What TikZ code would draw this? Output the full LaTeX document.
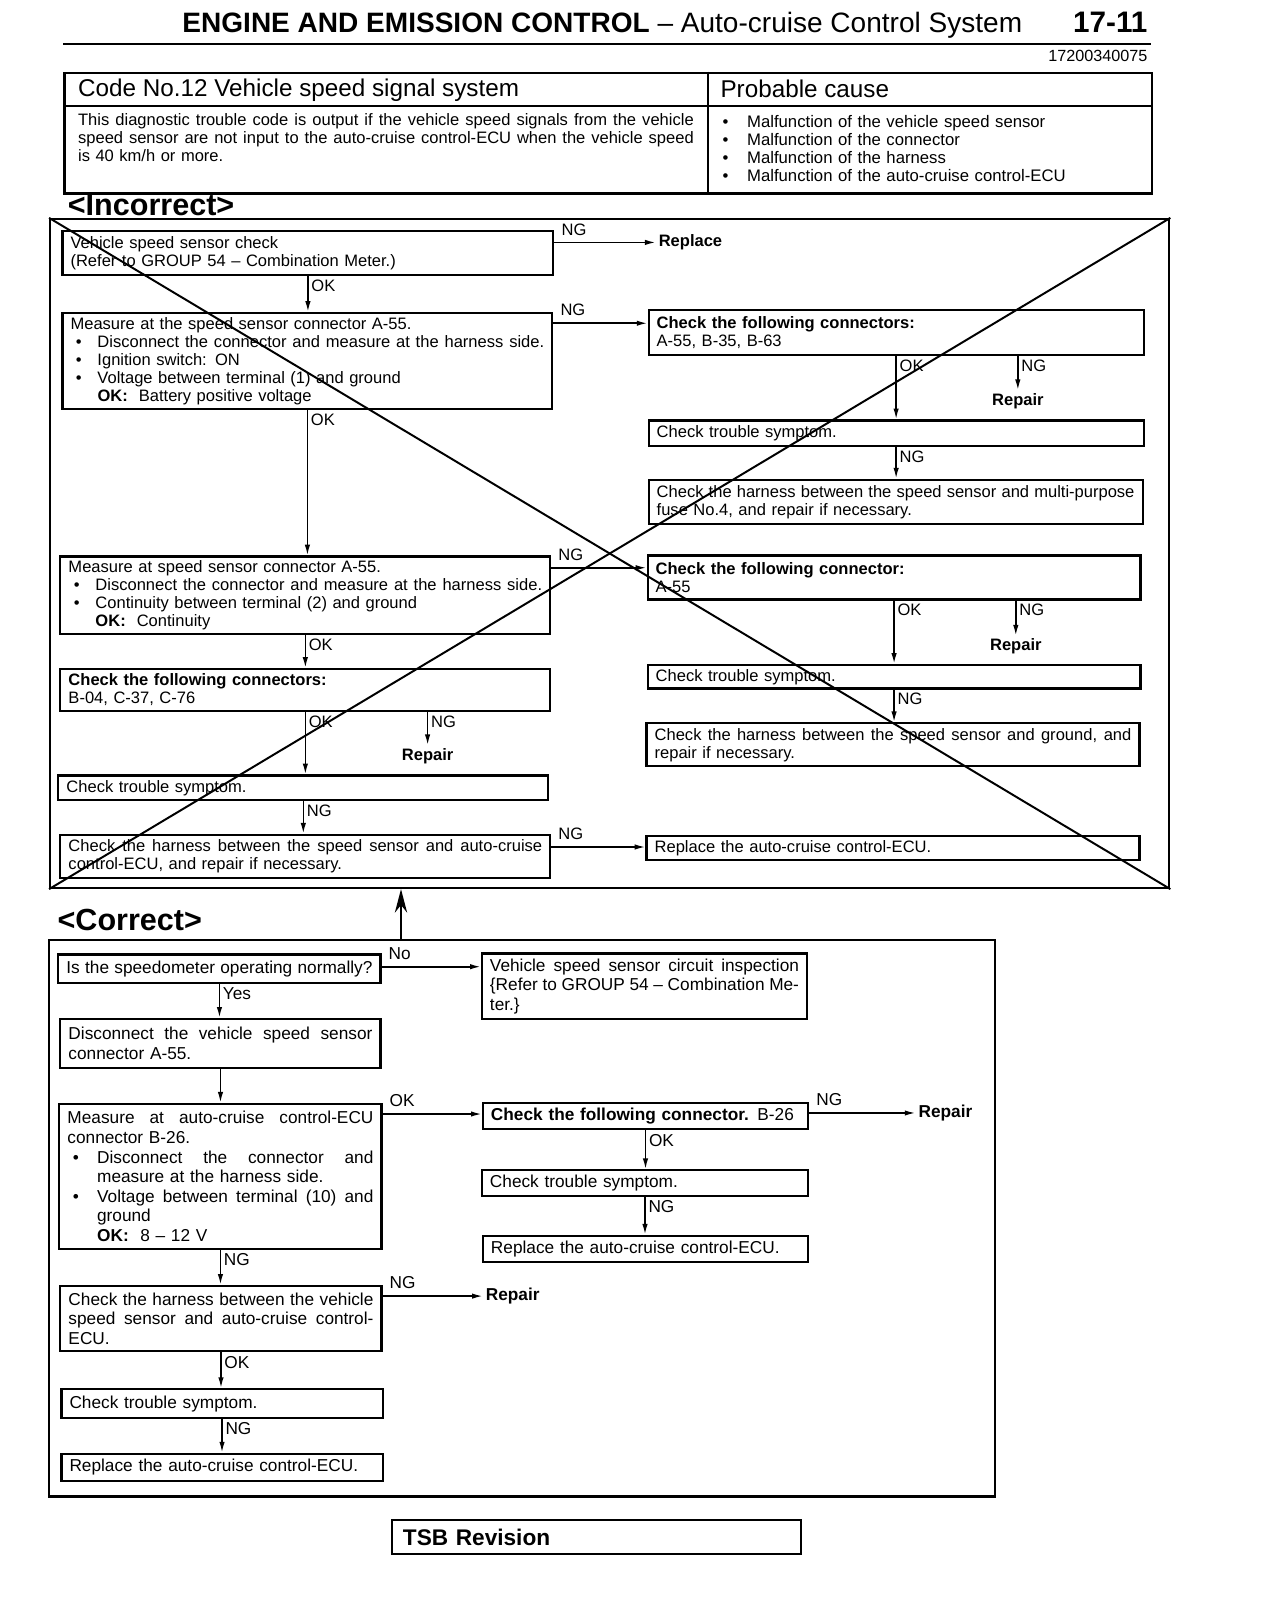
\documentclass[tikz,border=0pt]{standalone}
\usepackage{fontspec}
\setmainfont{Liberation Sans}
\usetikzlibrary{arrows.meta,calc,positioning}
\newlength{\bulind}\setlength{\bulind}{15pt}
\newcommand{\incf}{\fontsize{9.2}{10}\selectfont}
\newcommand{\corf}{\fontsize{9.6}{10.9}\selectfont\setlength{\bulind}{16.5pt}}
\newcommand{\bul}{\makebox[\bulind][l]{\hspace{3pt}\textbullet}}
\newcommand{\spread}{\spaceskip=\fontdimen2\font plus 1fil minus \fontdimen4\font\relax}
\newcommand{\fline}[1]{\leavevmode\hbox to \linewidth{\spread #1}}
\newcommand{\sline}[1]{\leavevmode\hbox to \dimexpr\linewidth-\bulind\relax{\spread #1}}

\begin{document}
\begin{tikzpicture}[x=0.02cm, y=-0.02cm,
    box/.style={draw, line width=1.2pt, anchor=north west, inner xsep=4.5pt, inner ysep=1.5pt, align=left},
    ibox/.style={box, font=\incf},
    cbox/.style={box, font=\corf},
    wd/.style={minimum width=#1, text width=#1-9pt},
    ht/.style={minimum height=#1},
    lbl/.style={inner sep=1.5pt, font=\incf},
    vlbl/.style={lbl, pos=0, anchor=north west},
    hlbl/.style={lbl, pos=0, anchor=south west, xshift=2pt, yshift=2pt},
    term/.style={inner sep=1.5pt, font=\incf\bfseries},
    frame/.style={draw, line width=1.3pt, anchor=north west, inner sep=0pt},
    flow/.style={line width=0.9pt, -{Latex[length=6pt,width=3pt]}},
    bigflow/.style={line width=1pt, -{Stealth[length=0.46cm,width=0.24cm]}},
    cross/.style={line width=1.1pt}
]
\useasboundingbox (0,0) rectangle (1236,1568);

% page header
\node[anchor=base west, inner sep=0, font=\fontsize{15.6}{17}\selectfont] (title) at (178,32)
    {\textbf{ENGINE AND EMISSION CONTROL} -- Auto-cruise Control System};
\node[anchor=base east, inner sep=0, font=\fontsize{16.5}{18}\selectfont\bfseries] (page) at (1122,32) {17-11};
\draw[line width=1.6pt] (62,43) -- (1125,43);
\node[anchor=base east, inner sep=0, font=\fontsize{9}{10}\selectfont] (docno) at (1122,60) {17200340075};

% trouble code table
\node[frame, minimum width=21.26cm, minimum height=2.36cm] (dtc) at (62,70) {};
\draw[line width=1.2pt] (692,70) -- (692,188);
\draw[line width=1.2pt] (62,104) -- (1125,104);
\node[anchor=base west, inner sep=0, font=\fontsize{13.5}{15}\selectfont] (code) at (76,94) {Code No.12 Vehicle speed signal system};
\node[anchor=base west, inner sep=0, font=\fontsize{13.5}{15}\selectfont] (cause) at (704,95) {Probable cause};
\node[anchor=base west, inner sep=0, text width=12.04cm, align=left, font=\incf] (desc) at (76,123)
    {\fline{This diagnostic trouble code is output if the vehicle speed signals from the vehicle}\\
     \fline{speed sensor are not input to the auto-cruise control-ECU when the vehicle speed}\\
     is 40 km/h or more.};
\node[anchor=base west, inner sep=0, text width=8cm, align=left, font=\fontsize{9.3}{10}\selectfont] (causes) at (706,125)
    {\makebox[0.48cm][l]{\textbullet}Malfunction of the vehicle speed sensor\\
     \makebox[0.48cm][l]{\textbullet}Malfunction of the connector\\
     \makebox[0.48cm][l]{\textbullet}Malfunction of the harness\\
     \makebox[0.48cm][l]{\textbullet}Malfunction of the auto-cruise control-ECU};

% <Incorrect>
\node[anchor=base west, inner sep=0, font=\fontsize{17}{19}\selectfont\bfseries] (inctitle) at (66,211) {<Incorrect>};
\node[frame, minimum width=21.88cm, minimum height=13.08cm] (incorrect) at (48,213) {};

\node[ibox, wd=9.6cm, ht=0.86cm] (i1) at (60,225)
    {Vehicle speed sensor check\\(Refer to GROUP 54 -- Combination Meter.)};
\node[ibox, wd=9.58cm, ht=1.88cm] (i2) at (60,305)
    {Measure at the speed sensor connector A-55.\\
     \bul\sline{Disconnect the connector and measure at the harness side.}\\
     \bul Ignition switch: ON\\
     \bul Voltage between terminal (1) and ground\\
     \hspace*{\bulind}\textbf{OK:}\ \ Battery positive voltage};
\node[ibox, wd=9.58cm, ht=1.52cm] (i3) at (58,543)
    {Measure at speed sensor connector A-55.\\
     \bul\sline{Disconnect the connector and measure at the harness side.}\\
     \bul Continuity between terminal (2) and ground\\
     \hspace*{\bulind}\textbf{OK:}\ \ Continuity};
\node[ibox, wd=9.58cm, ht=0.82cm] (i4) at (58,653)
    {\textbf{Check the following connectors:}\\B-04, C-37, C-76};
\node[ibox, wd=9.58cm, ht=0.48cm] (i5) at (56,757) {Check trouble symptom.};
\node[ibox, wd=9.58cm, ht=0.84cm] (i6) at (58,815)
    {\fline{Check the harness between the speed sensor and auto-cruise}\\control-ECU, and repair if necessary.};

\node[ibox, wd=9.68cm, ht=0.88cm] (r1) at (633,302)
    {\textbf{Check the following connectors:}\\A-55, B-35, B-63};
\node[ibox, wd=9.68cm, ht=0.5cm] (r2) at (633,410) {Check trouble symptom.};
\node[ibox, wd=9.66cm, ht=0.86cm] (r3) at (633,468)
    {\fline{Check the harness between the speed sensor and multi-purpose}\\fuse No.4, and repair if necessary.};
\node[ibox, wd=9.64cm, ht=0.86cm] (r4) at (632,542)
    {\textbf{Check the following connector:}\\A-55};
\node[ibox, wd=9.64cm, ht=0.46cm] (r5) at (632,649) {Check trouble symptom.};
\node[ibox, wd=9.64cm, ht=0.84cm] (r6) at (631,706)
    {\fline{Check the harness between the speed sensor and ground, and}\\repair if necessary.};
\node[ibox, wd=9.64cm, ht=0.48cm] (r7) at (631,816) {Replace the auto-cruise control-ECU.};

\node[term, anchor=west] (repl) at (641,237) {Replace};
\node[term] (rep1) at (995,392) {Repair};
\node[term] (rep2) at (418,739) {Repair};
\node[term] (rep3) at (993,632) {Repair};

\draw[flow] (i1.south) -- node[vlbl]{OK} (i1.south |- i2.north);
\draw[flow] (i2.south) -- node[vlbl]{OK} (i2.south |- i3.north);
\draw[flow] (i3.south) -- node[vlbl]{OK} (i3.south |- i4.north);
\draw[flow] (i4.south) -- node[vlbl]{OK} (i4.south |- i5.north);
\draw[flow] (i5.south) -- node[vlbl]{NG} (i5.south |- i6.north);
\draw[flow] (i4.south -| rep2) -- node[vlbl]{NG} (rep2);

\draw[flow] (r1.south) -- node[vlbl]{OK} (r1.south |- r2.north);
\draw[flow] (r1.south -| rep1) -- node[vlbl]{NG} (rep1);
\draw[flow] (r2.south) -- node[vlbl]{NG} (r2.south |- r3.north);
\draw[flow] (r4.south) -- node[vlbl]{OK} (r4.south |- r5.north);
\draw[flow] (r4.south -| rep3) -- node[vlbl]{NG} (rep3);
\draw[flow] (r5.south) -- node[vlbl]{NG} (r5.south |- r6.north);

\coordinate (a1) at ($(i1.north east)+(0,12)$);
\coordinate (a2) at ($(i2.north east)+(0,11)$);
\coordinate (a3) at ($(i3.north east)+(0,12)$);
\coordinate (a4) at ($(i6.north east)+(0,13)$);
\draw[flow] (a1) -- node[hlbl]{NG} (a1 -| repl.west);
\draw[flow] (a2) -- node[hlbl]{NG} (a2 -| r1.west);
\draw[flow] (a3) -- node[hlbl]{NG} (a3 -| r4.west);
\draw[flow] (a4) -- node[hlbl]{NG} (a4 -| r7.west);

% crossed out
\draw[cross] (incorrect.north west) -- (incorrect.south east);
\draw[cross] (incorrect.south west) -- (incorrect.north east);

% <Correct>
\node[anchor=base west, inner sep=0, font=\fontsize{17}{19}\selectfont\bfseries] (cortitle) at (56,910) {<Correct>};
\node[frame, minimum width=18.5cm, minimum height=10.88cm] (correct) at (47,918) {};

\node[cbox, wd=6.3cm, ht=0.56cm] (c1) at (56,932) {\fline{Is the speedometer operating normally?}};
\node[cbox, wd=6.26cm, ht=0.96cm] (c2) at (58,995)
    {\fline{Disconnect the vehicle speed sensor}\\connector A-55.};
\node[cbox, wd=6.3cm, ht=2.84cm] (c3) at (57,1078)
    {\fline{Measure at auto-cruise control-ECU}\\
     connector B-26.\\
     \bul\sline{Disconnect the connector and}\\
     \hspace*{\bulind}measure at the harness side.\\
     \bul\sline{Voltage between terminal (10) and}\\
     \hspace*{\bulind}ground\\
     \hspace*{\bulind}\textbf{OK:}\ \ 8 -- 12 V};
\node[cbox, wd=6.28cm, ht=1.28cm] (c4) at (58,1256)
    {\fline{Check the harness between the vehicle}\\\fline{speed sensor and auto-cruise control-}\\ECU.};
\node[cbox, wd=6.28cm, ht=0.56cm] (c5) at (59,1357) {Check trouble symptom.};
\node[cbox, wd=6.28cm, ht=0.54cm] (c6) at (59,1420) {Replace the auto-cruise control-ECU.};

\node[cbox, wd=6.36cm, ht=1.28cm] (d1) at (470,931)
    {\fline{Vehicle speed sensor circuit inspection}\\\fline{\{Refer to GROUP 54 -- Combination Me-}\\ter.\}};
\node[cbox, wd=6.36cm, ht=0.52cm] (d2) at (471,1077) {\textbf{Check the following connector.} B-26};
\node[cbox, wd=6.38cm, ht=0.5cm] (d3) at (470,1143) {Check trouble symptom.};
\node[cbox, wd=6.36cm, ht=0.52cm] (d4) at (471,1207) {Replace the auto-cruise control-ECU.};

\node[term, font=\corf\bfseries, anchor=west] (rep4) at (895,1088) {Repair};
\node[term, font=\corf\bfseries, anchor=west] (rep5) at (472,1267) {Repair};

\draw[flow] (c1.south) -- node[vlbl, font=\corf]{Yes} (c1.south |- c2.north);
\draw[flow] (c2.south) -- (c2.south |- c3.north);
\draw[flow] (c3.south) -- node[vlbl, font=\corf]{NG} (c3.south |- c4.north);
\draw[flow] (c4.south) -- node[vlbl, font=\corf]{OK} (c4.south |- c5.north);
\draw[flow] (c5.south) -- node[vlbl, font=\corf]{NG} (c5.south |- c6.north);
\draw[flow] (d2.south) -- node[vlbl, font=\corf]{OK} (d2.south |- d3.north);
\draw[flow] (d3.south) -- node[vlbl, font=\corf]{NG} (d3.south |- d4.north);

\coordinate (b1) at ($(c1.north east)+(0,13)$);
\coordinate (b2) at ($(c3.north east)+(0,11)$);
\coordinate (b3) at ($(d2.north east)+(0,11)$);
\coordinate (b4) at ($(c4.north east)+(0,11)$);
\draw[flow] (b1) -- node[hlbl, font=\corf]{No} (b1 -| d1.west);
\draw[flow] (b2) -- node[hlbl, font=\corf]{OK} (b2 -| d2.west);
\draw[flow] (b3) -- node[hlbl, font=\corf]{NG} (b3 -| rep4.west);
\draw[flow] (b4) -- node[hlbl, font=\corf]{NG} (b4 -| rep5.west);

% back to the crossed-out chart
\coordinate (noup) at (392,918);
\draw[bigflow] (noup) -- (noup |- incorrect.south);

% footer
\node[draw, line width=1.2pt, anchor=north west, minimum width=8cm, minimum height=0.66cm,
      text width=8cm-12.4pt, inner xsep=6.2pt, align=left,
      font=\fontsize{12.6}{14}\selectfont\bfseries] (tsb) at (382,1485) {TSB Revision};
\end{tikzpicture}
\end{document}
